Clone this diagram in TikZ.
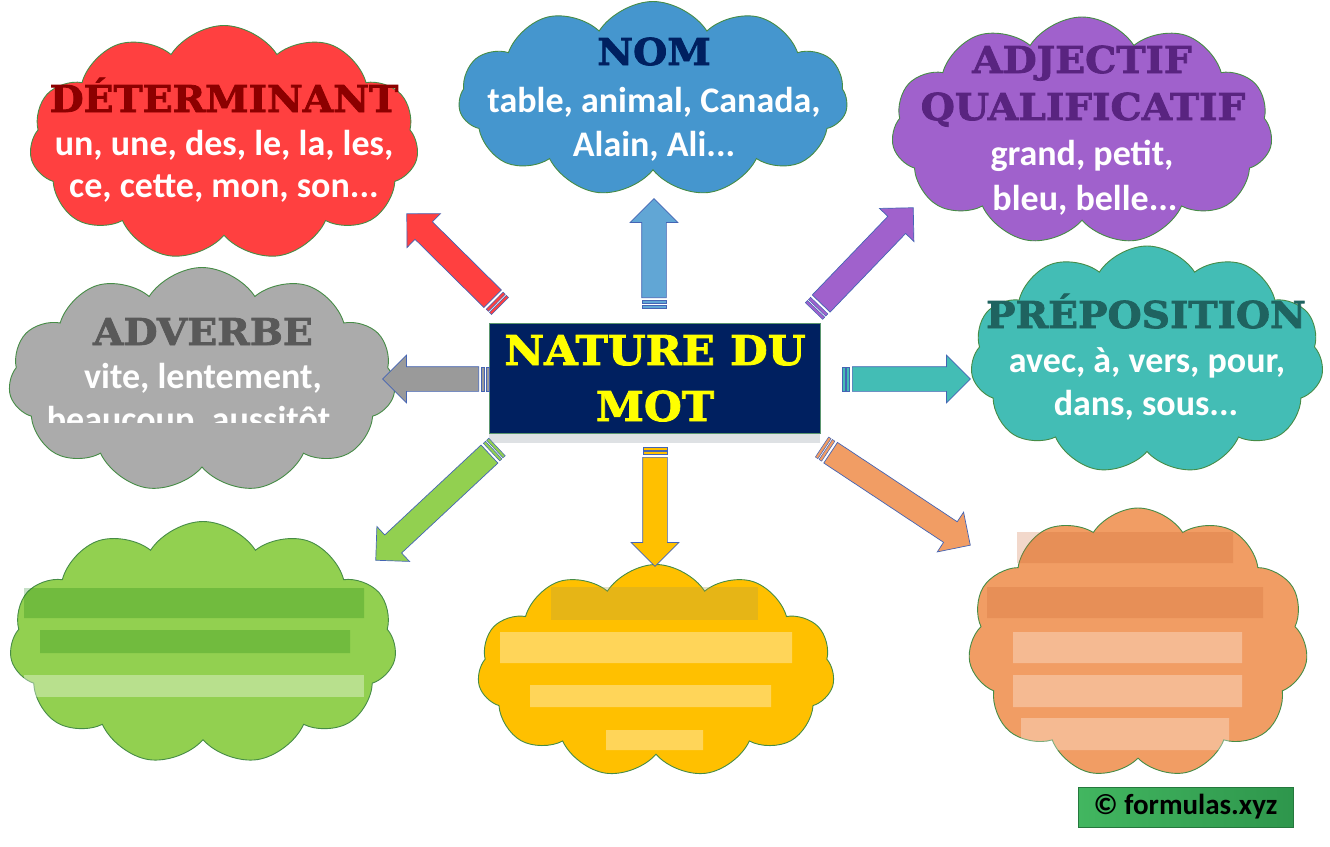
\documentclass[tikz,border=0pt]{standalone}
\usepackage{fontspec}
\usetikzlibrary{shapes.symbols,shapes.arrows,calc}
\newfontfamily\slabf{DejaVu Serif Bold}[FakeStretch=1.06, FakeBold=2]
\newfontfamily\bodyf{Carlito}
\definecolor{cred}{RGB}{255,64,64}
\definecolor{hred}{RGB}{140,0,0}
\definecolor{cblue}{RGB}{69,150,206}
\definecolor{hnavy}{RGB}{0,32,96}
\definecolor{cpurple}{RGB}{160,97,204}
\definecolor{hpurple}{RGB}{89,36,128}
\definecolor{cteal}{RGB}{67,189,181}
\definecolor{hteal}{RGB}{31,99,96}
\definecolor{cgray}{RGB}{171,171,171}
\definecolor{hgray}{RGB}{89,89,89}
\definecolor{cgreen}{RGB}{146,208,80}
\definecolor{cyellow}{RGB}{255,192,0}
\definecolor{corange}{RGB}{241,157,100}
\definecolor{cloudline}{RGB}{70,140,70}
\definecolor{arrline}{RGB}{68,100,180}
\definecolor{boxline}{RGB}{90,150,110}
\definecolor{stripgray}{RGB}{222,225,228}
\definecolor{copyA}{RGB}{66,182,96}
\definecolor{copyB}{RGB}{46,150,76}
\definecolor{ybright}{RGB}{255,255,0}
\newcommand\blockarr[4]{%
  \path let \p1=($(#4)-(#3)$), \n1={atan2(\y1,\x1)}, \n2={veclen(\x1,\y1)-10} in
    node[barrow, fill=#2, rotate=\n1, minimum height=\n2, anchor=tail] (#1) at ($(#3)!10pt!(#4)$) {}
    node[stripe, fill=#2, rotate=\n1] (#1s1) at ($(#3)!1.5pt!(#4)$) {}
    node[stripe, fill=#2, rotate=\n1] (#1s2) at ($(#3)!6pt!(#4)$) {};
}
\begin{document}
\begin{tikzpicture}[x=1pt,y=-1pt,
  cloudsh/.style={cloud, cloud puffs=11, cloud puff arc=115, cloud ignores aspect,
    draw=cloudline, line width=0.9pt, inner sep=0pt},
  head/.style={font=\slabf\fontsize{37}{40}\selectfont, anchor=base, inner sep=0pt},
  body/.style={font=\bodyf\bfseries\fontsize{36}{43}\selectfont, text=white, anchor=base, inner sep=0pt},
  barrow/.style={single arrow, single arrow tip angle=90, single arrow head extend=11.5pt,
    draw=arrline, line width=0.7pt, inner xsep=0pt, inner ysep=12pt},
  stripe/.style={rectangle, draw=arrline, line width=0.5pt, minimum width=3pt,
    minimum height=24pt, inner sep=0pt}]
\useasboundingbox (0,0) rectangle (1330,846);
\fill[white] (0,0) rectangle (1330,846);

% clouds
\node[cloudsh, fill=cred, minimum width=389pt, minimum height=235pt] (cD) at (224,143) {};
\node[cloudsh, fill=cblue, minimum width=389pt, minimum height=195pt] (cN) at (653,99) {};
\node[cloudsh, fill=cpurple, minimum width=381pt, minimum height=228pt] (cA) at (1082,131) {};
\node[cloudsh, fill=cteal, minimum width=353pt, minimum height=228pt] (cP) at (1147,360) {};
\node[cloudsh, fill=cgray, minimum width=387pt, minimum height=225pt] (cV) at (202,380) {};
\node[cloudsh, fill=cgreen, minimum width=387pt, minimum height=243pt] (cG) at (203,643) {};
\node[cloudsh, fill=cyellow, minimum width=357pt, minimum height=213pt] (cY) at (656,671) {};
\node[cloudsh, fill=corange, minimum width=340pt, minimum height=270pt] (cO) at (1138,643) {};

% blurred text bands in the bottom clouds
\fill[green!45!black, opacity=0.22] (24,588) rectangle (364,618) (40,630) rectangle (350,653);
\fill[white, opacity=0.35] (24,675) rectangle (364,697);
\fill[black!40!yellow!70!brown, opacity=0.3] (551,587) rectangle (758,620);
\fill[white, opacity=0.35] (500,632) rectangle (792,663) (530,685) rectangle (771,707) (606,730) rectangle (703,750);
\fill[brown!80!red, opacity=0.25] (1017,532) rectangle (1233,563) (987,587) rectangle (1263,618);
\fill[white, opacity=0.3] (1013,632) rectangle (1242,663) (1013,675) rectangle (1242,707) (1021,718) rectangle (1229,750);

% central box
\fill[stripgray] (489,433) rectangle (820,443);
\node[draw=boxline, fill=hnavy, minimum width=331pt, minimum height=110pt, inner sep=0pt, line width=0.8pt] (center) at (654.5,378) {};
\node[head, text=ybright, font=\slabf\fontsize{41}{44}\selectfont] (c1) at (655,365) {NATURE DU};
\node[head, text=ybright, font=\slabf\fontsize{41}{44}\selectfont] (c2) at (655,421) {MOT};

% arrow end points
\coordinate (tR) at (500,306);  \coordinate (pR) at (407,214);
\coordinate (tB) at (654,308);  \coordinate (pB) at (654,199);
\coordinate (tU) at (814,311);  \coordinate (pU) at (913,208);
\coordinate (tV) at (489,379);  \coordinate (pV) at (383,379);
\coordinate (tP) at (842,379);  \coordinate (pP) at (970,379);
\coordinate (tG) at (497,447);  \coordinate (pG) at (376,560);
\coordinate (tY) at (655,447);  \coordinate (pY) at (655,566);
\coordinate (tO) at (822,447);  \coordinate (pO) at (970,545);
\blockarr{aR}{cred}{tR}{pR}
\blockarr{aB}{cblue!85!white}{tB}{pB}
\blockarr{aU}{cpurple}{tU}{pU}
\blockarr{aV}{cgray!90!black}{tV}{pV}
\blockarr{aP}{cteal}{tP}{pP}
\blockarr{aG}{cgreen}{tG}{pG}
\blockarr{aY}{cyellow}{tY}{pY}
\blockarr{aO}{corange}{tO}{pO}

% texts
\node[head, text=hred] (hD) at (224,112) {DÉTERMINANT};
\node[body] (bD1) at (224,155) {un, une, des, le, la, les,};
\node[body] (bD2) at (224,197) {ce, cette, mon, son...};

\node[head, text=hnavy] (hN) at (654,65) {NOM};
\node[body] (bN1) at (654,112) {table, animal, Canada,};
\node[body] (bN2) at (654,156) {Alain, Ali...};

\node[head, text=hpurple] (hA1) at (1082,73) {ADJECTIF};
\node[head, text=hpurple] (hA2) at (1083,120) {QUALIFICATIF};
\node[body] (bA1) at (1082,165) {grand, petit,};
\node[body] (bA2) at (1085,210) {bleu, belle...};

\node[head, text=hteal] (hP) at (1146,328) {PRÉPOSITION};
\node[body] (bP1) at (1147,372) {avec, à, vers, pour,};
\node[body] (bP2) at (1146,415) {dans, sous...};

\node[head, text=hgray] (hV) at (203,345) {ADVERBE};
\node[body] (bV1) at (203,388) {vite, lentement,};
\begin{scope}
\clip (0,0) rectangle (420,422);
\node[body] (bV2) at (203,431) {beaucoup, aussitôt...};
\end{scope}

% copyright
\node[left color=copyA, right color=copyB, draw=copyB!80!black, line width=0.4pt,
  minimum width=215pt, minimum height=40pt, inner sep=0pt,
  font=\bodyf\bfseries\fontsize{29}{30}\selectfont, text=black] (copy) at (1185.5,807) {© formulas.xyz};
\end{tikzpicture}
\end{document}
